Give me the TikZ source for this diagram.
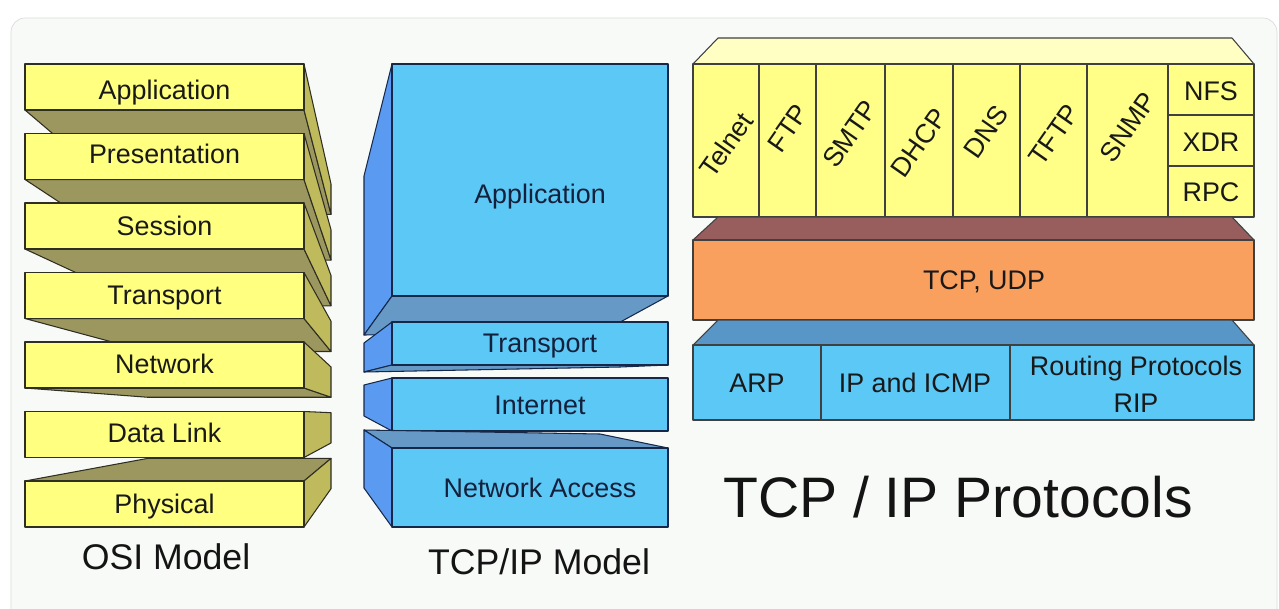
\documentclass[tikz,border=0pt]{standalone}
\usepackage{fontspec}
\setmainfont{Liberation Sans}
\usetikzlibrary{math}
\definecolor{osiyellow}{HTML}{FFFF80}
\definecolor{osibottom}{HTML}{9C975E}
\definecolor{osiside}{HTML}{BFBA5C}
\definecolor{osiline}{HTML}{2E2E22}
\definecolor{tcpblue}{HTML}{5CC8F5}
\definecolor{tcpside}{HTML}{5A9AF0}
\definecolor{tcpflat}{HTML}{6699C6}
\definecolor{tcpline}{HTML}{16284A}
\definecolor{tcptext}{HTML}{14203C}
\definecolor{protoyellow}{HTML}{FFFF88}
\definecolor{prototop}{HTML}{FFFFC4}
\definecolor{protobrown}{HTML}{985D5D}
\definecolor{protoorange}{HTML}{F9A05F}
\definecolor{protoblue}{HTML}{5896C8}
\definecolor{protoline}{HTML}{404040}
\definecolor{panel}{HTML}{F8FAF7}
\definecolor{panelline}{HTML}{DADDDA}
\tikzset{
	osiface/.style={draw=osiline,line width=0.6pt,line join=round},
	tcpface/.style={draw=tcpline,line width=0.6pt,line join=round},
	protoface/.style={draw=protoline,line width=0.6pt,line join=round},
	layertext/.style={font=\fontsize{15.3}{21}\selectfont,inner sep=0pt,text=black!90},
	flattext/.style={layertext,text height=11.5pt,text depth=3.8pt},
	modeltitle/.style={font=\fontsize{20.3}{24}\selectfont,inner sep=0pt,text=black!92},
}

\begin{document}
\begin{tikzpicture}[x=0.02cm,y=-0.02cm]
	\useasboundingbox (0,0) rectangle (1279,609);
	\fill[white] (0,0) rectangle (1279,609);
	\draw[panelline,fill=panel,rounded corners=8] (11,18) rectangle (1277,630);
	\tikzmath{\ox=25; \oxr=304; \oh=46; \od=69.5;
	\vx=383; \vy=415; \kd=0.342;
	\bxl=\ox+\kd*(\vx-\ox); \bxr=\oxr+\kd*(\vx-\oxr);
	\oxc=(\ox+\oxr)/2;
	\oat=64; \oab=\oat+\oh;
	\opt=\oat+\od; \opb=\opt+\oh;
	\ost=\opt+\od; \osb=\ost+\oh;
	\ott=\ost+\od; \otb=\ott+\oh;
	\ont=\ott+\od; \onb=\ont+\oh;
	\odt=\ont+\od; \odb=\odt+\oh;
	\oht=\odt+\od; \ohb=\oht+\oh;
	\oabt=\oat+\kd*(\vy-\oat); \oabb=\oab+\kd*(\vy-\oab);
	\opbt=\opt+\kd*(\vy-\opt); \opbb=\opb+\kd*(\vy-\opb);
	\osbt=\ost+\kd*(\vy-\ost); \osbb=\osb+\kd*(\vy-\osb);
	\otbt=\ott+\kd*(\vy-\ott); \otbb=\otb+\kd*(\vy-\otb);
	\onbt=\ont+\kd*(\vy-\ont); \onbb=\onb+\kd*(\vy-\onb);
	\odbt=\odt+\kd*(\vy-\odt); \odbb=\odb+\kd*(\vy-\odb);
	\ohbt=\oht+\kd*(\vy-\oht); \ohbb=\ohb+\kd*(\vy-\ohb);
	\mxl=392; \mxr=668; \mxb=364; \mxc=540;
	\mat=64; \mab=296; \matb=176; \mabb=335;
	\mtt=322; \mtb=365; \mttb=343; \mtbb=372;
	\mit=378; \mib=431; \mitb=385; \mibb=416;
	\mnt=448; \mnb=527; \mntb=430; \mnbb=488;
	\pxl=693; \pxr=1254; \pbl=718; \pbr=1232;
	\pyback=38; \pyt=64; \pyb=217;
	\pot=240; \pob=320;
	\pbt=345; \pbb=420;
	}
	% OSI stack, faces recede towards (\vx,\vy)
	\draw[osiface,fill=osibottom] (\ox,\oab) -- (\oxr,\oab) -- (\bxr,\oabb) -- (\bxl,\oabb) -- cycle;
	\draw[osiface,fill=osiside] (\oxr,\oat) -- (\bxr,\oabt) -- (\bxr,\oabb) -- (\oxr,\oab) -- cycle;
	\draw[osiface,fill=osiyellow] (\ox,\oat) rectangle (\oxr,\oab);
	\draw[osiface,fill=osibottom] (\ox,\opb) -- (\oxr,\opb) -- (\bxr,\opbb) -- (\bxl,\opbb) -- cycle;
	\draw[osiface,fill=osiside] (\oxr,\opt) -- (\bxr,\opbt) -- (\bxr,\opbb) -- (\oxr,\opb) -- cycle;
	\draw[osiface,fill=osiyellow] (\ox,\opt) rectangle (\oxr,\opb);
	\draw[osiface,fill=osibottom] (\ox,\osb) -- (\oxr,\osb) -- (\bxr,\osbb) -- (\bxl,\osbb) -- cycle;
	\draw[osiface,fill=osiside] (\oxr,\ost) -- (\bxr,\osbt) -- (\bxr,\osbb) -- (\oxr,\osb) -- cycle;
	\draw[osiface,fill=osiyellow] (\ox,\ost) rectangle (\oxr,\osb);
	\draw[osiface,fill=osibottom] (\ox,\otb) -- (\oxr,\otb) -- (\bxr,\otbb) -- (\bxl,\otbb) -- cycle;
	\draw[osiface,fill=osiside] (\oxr,\ott) -- (\bxr,\otbt) -- (\bxr,\otbb) -- (\oxr,\otb) -- cycle;
	\draw[osiface,fill=osiyellow] (\ox,\ott) rectangle (\oxr,\otb);
	\draw[osiface,fill=osibottom] (\ox,\onb) -- (\oxr,\onb) -- (\bxr,\onbb) -- (\bxl,\onbb) -- cycle;
	\draw[osiface,fill=osiside] (\oxr,\ont) -- (\bxr,\onbt) -- (\bxr,\onbb) -- (\oxr,\onb) -- cycle;
	\draw[osiface,fill=osiyellow] (\ox,\ont) rectangle (\oxr,\onb);
	\draw[osiface,fill=osibottom] (\ox,\oht) -- (\oxr,\oht) -- (\bxr,\ohbt) -- (\bxl,\ohbt) -- cycle;
	\draw[osiface,fill=osiside] (\oxr,\oht) -- (\bxr,\ohbt) -- (\bxr,\ohbb) -- (\oxr,\ohb) -- cycle;
	\draw[osiface,fill=osiyellow] (\ox,\oht) rectangle (\oxr,\ohb);
	\draw[osiface,fill=osiside] (\oxr,\odt) -- (\bxr,\odbt) -- (\bxr,\odbb) -- (\oxr,\odb) -- cycle;
	\draw[osiface,fill=osiyellow] (\ox,\odt) rectangle (\oxr,\odb);
	\node (osiapp) at (\oxc,93)[flattext]{Application};
	\node (osipres) at (\oxc,157)[flattext]{Presentation};
	\node (osisess) at (\oxc,229)[flattext]{Session};
	\node (ositrans) at (\oxc,298)[flattext]{Transport};
	\node (osinet) at (\oxc,367)[flattext]{Network};
	\node (osilink) at (\oxc,436)[flattext]{Data Link};
	\node (osiphys) at (\oxc,507)[flattext]{Physical};
	\node (osititle) at (166,557)[modeltitle]{OSI Model};
	% TCP/IP model stack
	\draw[tcpface,fill=tcpside] (\mxl,\mat) -- (\mxb,\matb) -- (\mxb,\mabb) -- (\mxl,\mab) -- cycle;
	\draw[tcpface,fill=tcpflat] (\mxl,\mab) -- (\mxr,\mab) -- (602,332) -- (\mxb,\mabb) -- cycle;
	\draw[tcpface,fill=tcpblue] (\mxl,\mat) rectangle (\mxr,\mab);
	\draw[tcpface,fill=tcpside] (\mxl,\mtt) -- (\mxb,\mttb) -- (\mxb,\mtbb) -- (\mxl,\mtb) -- cycle;
	\draw[tcpface,fill=tcpflat] (\mxl,\mtb) -- (\mxr,\mtb) -- (620,367) -- (\mxb,\mtbb) -- cycle;
	\draw[tcpface,fill=tcpblue] (\mxl,\mtt) rectangle (\mxr,\mtb);
	\draw[tcpface,fill=tcpside] (\mxl,\mit) -- (\mxb,\mitb) -- (\mxb,\mibb) -- (\mxl,\mib) -- cycle;
	\draw[tcpface,fill=tcpblue] (\mxl,\mit) rectangle (\mxr,\mib);
	\draw[tcpface,fill=tcpflat] (\mxl,\mnt) -- (\mxr,\mnt) -- (600,434) -- (\mxb,\mntb) -- cycle;
	\draw[tcpface,fill=tcpside] (\mxl,\mnt) -- (\mxb,\mntb) -- (\mxb,\mnbb) -- (\mxl,\mnb) -- cycle;
	\draw[tcpface,fill=tcpblue] (\mxl,\mnt) rectangle (\mxr,\mnb);
	\node (tcpapp) at (\mxc,197)[flattext,text=tcptext]{Application};
	\node (tcptrans) at (\mxc,346)[flattext,text=tcptext]{Transport};
	\node (tcpinet) at (\mxc,408)[flattext,text=tcptext]{Internet};
	\node (tcpaccess) at (\mxc,491)[flattext,text=tcptext]{Network Access};
	\node (tcptitle) at (539,562)[modeltitle]{TCP/IP Model};
	% protocol blocks
	\draw[protoface,fill=prototop] (\pxl,\pyt) -- (\pbl,\pyback) -- (\pbr,\pyback) -- (\pxr,\pyt) -- cycle;
	\draw[protoface,fill=protoyellow] (\pxl,\pyt) rectangle (\pxr,\pyb);
	\draw[protoface] (759,\pyt) -- (759,\pyb);
	\draw[protoface] (816,\pyt) -- (816,\pyb);
	\draw[protoface] (885,\pyt) -- (885,\pyb);
	\draw[protoface] (953,\pyt) -- (953,\pyb);
	\draw[protoface] (1020,\pyt) -- (1020,\pyb);
	\draw[protoface] (1087,\pyt) -- (1087,\pyb);
	\draw[protoface] (1168,\pyt) -- (1168,\pyb);
	\draw[protoface] (1168,115) -- (\pxr,115);
	\draw[protoface] (1168,166) -- (\pxr,166);
	\draw[protoface,fill=protobrown] (\pxl,\pot) -- (\pbl,\pyb) -- (\pbr,\pyb) -- (\pxr,\pot) -- cycle;
	\draw[protoface,fill=protoorange] (\pxl,\pot) rectangle (\pxr,\pob);
	\draw[protoface,fill=protoblue] (\pxl,\pbt) -- (\pbl,\pob) -- (\pbr,\pob) -- (\pxr,\pbt) -- cycle;
	\draw[protoface,fill=tcpblue] (\pxl,\pbt) rectangle (\pxr,\pbb);
	\draw[protoface] (821,\pbt) -- (821,\pbb);
	\draw[protoface] (1010,\pbt) -- (1010,\pbb);
	\node (telnet) at (726,145)[layertext,rotate=55]{Telnet};
	\node (ftp) at (788,128)[layertext,rotate=55]{FTP};
	\node (smtp) at (850,134)[layertext,rotate=55]{SMTP};
	\node (dhcp) at (919,143)[layertext,rotate=55]{DHCP};
	\node (dns) at (986,132)[layertext,rotate=55]{DNS};
	\node (tftp) at (1054,135)[layertext,rotate=55]{TFTP};
	\node (snmp) at (1128,127)[layertext,rotate=55]{SNMP};
	\node (nfs) at (1211,94)[flattext]{NFS};
	\node (xdr) at (1211,145)[flattext]{XDR};
	\node (rpc) at (1211,195)[flattext]{RPC};
	\node (tcpudp) at (984,283)[flattext]{TCP, UDP};
	\node (arp) at (757,386)[flattext]{ARP};
	\node (ipicmp) at (915,386)[flattext]{IP and ICMP};
	\node (routing) at (1136,384)[layertext,align=center]{Routing Protocols\\RIP};
	\node (prototitle) at (958,497)[font=\fontsize{32.5}{38}\selectfont,inner sep=0pt,text=black!92]{TCP / IP Protocols};
\end{tikzpicture}
\end{document}
